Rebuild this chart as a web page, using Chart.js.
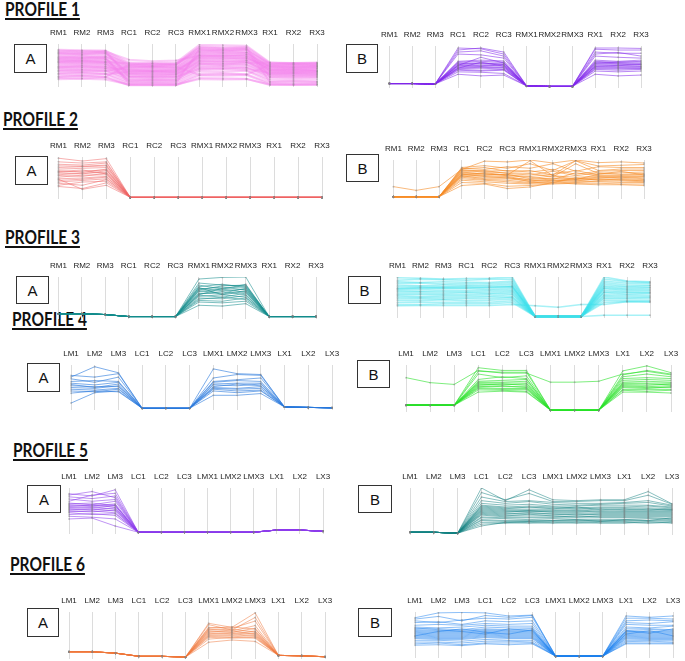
<!DOCTYPE html>
<html><head><meta charset="utf-8">
<script src="https://cdn.jsdelivr.net/npm/chart.js@4/dist/chart.umd.min.js"></script>
<style>
html,body{margin:0;padding:0;background:#fff;}
body{width:685px;height:661px;position:relative;overflow:hidden;}
.title{position:absolute;font-family:Lato,"Open Sans",sans-serif;font-weight:bold;font-size:18px;line-height:18px;color:#111;text-decoration:underline;text-decoration-thickness:2px;text-underline-offset:2px;white-space:nowrap;transform:scaleX(0.86);transform-origin:0 0;}
.box{position:absolute;box-sizing:border-box;border:1.5px solid #333;font-family:"Liberation Sans",Arial,sans-serif;font-size:15px;color:#111;display:flex;align-items:center;justify-content:center;}
canvas{position:absolute;}
</style></head>
<body>
<script>
// ---- categories ----
const rAxes = ['RM1','RM2','RM3','RC1','RC2','RC3','RMX1','RMX2','RMX3','RX1','RX2','RX3'];
const lAxes = ['LM1','LM2','LM3','LC1','LC2','LC3','LMX1','LMX2','LMX3','LX1','LX2','LX3'];
const titles = ['PROFILE 1','PROFILE 2','PROFILE 3','PROFILE 4','PROFILE 5','PROFILE 6'];

// ---- series (0 = panel floor, 100 = panel top) ----
const p1A = [
 [86,85,84,55,54,55,98,97,96,55,54,55],[82,83,80,52,53,52,94,92,93,53,52,53],
 [78,79,77,50,52,50,90,88,89,50,51,50],[75,74,76,48,47,49,86,85,86,48,49,48],
 [72,73,71,46,45,46,82,84,80,46,47,46],[70,68,70,44,45,43,80,78,79,45,44,45],
 [67,66,68,42,43,42,76,77,75,43,43,42],[64,65,63,40,41,40,73,72,74,41,40,41],
 [62,61,62,38,39,38,70,71,69,40,39,40],[60,59,58,36,35,36,68,67,66,38,37,38],
 [57,58,56,34,35,34,65,64,66,36,36,35],[55,54,55,32,33,32,62,63,61,34,35,34],
 [52,53,51,30,31,30,60,59,60,33,32,33],[50,49,50,28,29,28,57,58,56,31,30,31],
 [47,48,46,26,27,26,54,53,55,29,30,29],[45,44,45,24,23,25,51,52,50,27,28,27],
 [42,43,41,22,21,22,48,47,49,25,24,25],[40,39,40,20,19,20,45,46,44,22,23,22],
 [37,38,36,16,17,16,42,41,43,19,18,19],[34,33,35,12,13,12,38,39,37,15,14,15],
 [30,31,29,8,9,8,34,33,35,10,11,10],[26,25,27,4,5,4,28,29,27,6,5,6],
 [22,23,21,1,1,1,24,23,25,3,2,3],[18,17,19,0,0,0,18,17,16,1,1,1],
 [15,16,14,2,2,2,15,14,15,2,2,2],[84,82,83,20,22,20,40,42,40,30,31,30],
 [20,22,20,50,48,50,92,90,91,20,21,20],[65,64,66,5,6,5,88,86,87,8,9,8],
 [35,36,34,45,46,45,25,27,26,50,50,49],[55,56,54,14,15,14,78,80,79,44,43,44],
 [80,78,82,62,58,60,72,74,70,38,40,36],[68,70,66,10,12,11,52,50,54,55,52,54],
 [58,60,57,53,50,52,84,82,85,52,54,52],[44,46,43,38,36,37,66,68,64,47,45,46],
 [77,75,78,28,26,27,58,56,59,26,26,25],[28,30,27,33,34,32,72,70,73,36,34,35]
];
const p1B = [
 [7,7,6,95,93,80,1,0,0,95,95,94],[7,7,6,90,95,85,1,0,0,92,90,90],
 [7,7,6,85,88,75,1,0,0,85,82,82],[7,7,6,80,78,70,1,0,0,80,84,75],
 [7,7,6,62,65,63,1,0,0,75,72,70],[7,7,6,60,62,60,1,0,0,65,62,65],
 [7,7,6,58,57,58,1,0,0,62,60,60],[7,7,6,56,58,55,1,0,0,60,58,57],
 [7,7,6,54,55,54,1,0,0,58,56,55],[7,7,6,52,50,53,1,0,0,55,55,53],
 [7,7,6,50,52,50,1,0,0,53,52,54],[7,7,6,48,49,47,1,0,0,50,52,50],
 [7,7,6,46,47,46,1,0,0,48,47,48],[7,7,6,44,45,43,1,0,0,46,45,45],
 [7,7,6,42,40,42,1,0,0,44,43,44],[7,7,6,40,38,40,1,0,0,42,40,42],
 [7,7,6,36,35,32,1,0,0,38,36,38],[7,7,6,30,26,28,1,0,0,30,26,28],
 [7,7,6,52,72,58,1,0,0,57,60,62],[7,7,6,45,60,50,1,0,0,50,49,48]
];
const p2A = [
 [97,90,96,0,0,0,0,0,0,0,0,0],[88,85,88,0,0,0,0,0,0,0,0,0],[82,80,85,0,0,0,0,0,0,0,0,0],
 [78,77,80,0,0,0,0,0,0,0,0,0],[74,76,78,0,0,0,0,0,0,0,0,0],[70,72,74,0,0,0,0,0,0,0,0,0],
 [66,62,70,0,0,0,0,0,0,0,0,0],[62,65,68,0,0,0,0,0,0,0,0,0],[60,58,66,0,0,0,0,0,0,0,0,0],
 [56,60,62,0,0,0,0,0,0,0,0,0],[54,52,60,0,0,0,0,0,0,0,0,0],[50,55,56,0,0,0,0,0,0,0,0,0],
 [46,48,52,0,0,0,0,0,0,0,0,0],[42,45,50,0,0,0,0,0,0,0,0,0],[38,42,46,0,0,0,0,0,0,0,0,0],
 [35,30,44,0,0,0,0,0,0,0,0,0],[30,38,40,0,0,0,0,0,0,0,0,0],[27,22,36,0,0,0,0,0,0,0,0,0],
 [45,20,30,0,0,0,0,0,0,0,0,0],[64,68,58,0,0,0,0,0,0,0,0,0]
];
const p2B = [
 [29,19,29,75,97,95,100,92,100,93,95,92],[2,2,2,80,85,78,90,72,98,84,86,88],
 [2,2,2,78,75,82,78,90,70,82,80,80],[2,2,2,76,80,70,72,60,98,72,76,76],
 [2,2,2,74,70,72,68,75,62,70,72,72],[2,2,2,72,68,66,64,55,90,64,66,68],
 [2,2,2,70,72,64,60,70,58,66,62,64],[2,2,2,68,62,60,56,62,72,60,60,62],
 [2,2,2,66,64,58,54,48,66,58,58,58],[2,2,2,64,60,62,50,58,54,56,56,56],
 [2,2,2,62,56,52,48,52,50,54,52,54],[2,2,2,60,58,56,46,44,48,52,54,50],
 [2,2,2,58,50,50,44,50,46,48,50,48],[2,2,2,56,54,54,42,46,44,50,46,46],
 [2,2,2,54,48,46,40,40,52,46,48,44],[2,2,2,50,46,42,38,44,40,44,44,42],
 [2,2,2,46,42,38,36,38,42,42,40,40],[2,2,2,40,38,30,32,36,38,38,36,36],
 [2,2,2,32,36,24,28,40,36,34,34,32],[2,2,2,60,66,60,98,58,48,62,70,60]
];
const p3A = [
 [9,9,7,2,2,2,95,99,100,2,2,2],[9,9,7,2,2,2,85,80,78,2,2,2],[9,9,7,2,2,2,80,70,82,2,2,2],
 [9,9,7,2,2,2,76,82,74,2,2,2],[9,9,7,2,2,2,72,66,70,2,2,2],[9,9,7,2,2,2,70,75,68,2,2,2],
 [9,9,7,2,2,2,66,60,72,2,2,2],[9,9,7,2,2,2,64,70,62,2,2,2],[9,9,7,2,2,2,60,58,66,2,2,2],
 [9,9,7,2,2,2,58,64,56,2,2,2],[9,9,7,2,2,2,55,50,60,2,2,2],[9,9,7,2,2,2,52,56,50,2,2,2],
 [9,9,7,2,2,2,48,46,54,2,2,2],[9,9,7,2,2,2,45,50,44,2,2,2],[9,9,7,2,2,2,42,40,48,2,2,2],
 [9,9,7,2,2,2,38,36,40,2,2,2],[9,9,7,2,2,2,30,28,34,2,2,2],[9,9,7,2,2,2,68,78,80,2,2,2],
 [9,9,7,2,2,2,74,56,64,2,2,2],[9,9,7,2,2,2,56,72,76,2,2,2]
];
const p3B = [
 [98,97,95,96,97,100,0,0,0,100,90,88],[92,94,93,92,94,95,0,0,0,95,88,86],
 [88,86,88,87,86,90,0,0,0,90,84,84],[84,85,82,84,83,86,0,0,0,86,80,80],
 [80,78,80,80,79,82,0,0,0,82,76,78],[76,76,75,77,76,78,0,0,0,78,74,74],
 [72,73,72,72,74,75,0,0,0,75,70,72],[68,68,70,70,68,72,0,0,0,72,68,68],
 [65,64,66,65,66,68,0,0,0,70,65,66],[62,62,62,62,62,65,0,0,0,66,62,62],
 [58,58,58,60,58,62,0,0,0,62,60,60],[55,55,55,55,56,58,0,0,0,60,56,58],
 [52,50,52,52,52,55,0,0,0,55,54,54],[48,48,48,48,49,50,0,0,0,52,50,50],
 [44,45,44,45,45,48,0,0,0,48,47,48],[40,40,42,40,41,44,0,0,0,45,44,44],
 [35,36,36,36,36,40,0,0,0,40,40,40],[30,30,32,32,32,35,0,0,0,35,38,38],
 [27,28,28,28,28,30,27,23,30,30,37,36],[70,72,74,74,72,76,0,0,0,3,3,3]
];
const p4A = [
 [72,96,82,0,0,0,91,80,78,3,2,1],[76,72,80,0,0,0,70,78,76,3,2,1],
 [68,60,72,0,0,0,62,66,70,3,2,1],[62,64,62,0,0,0,60,64,62,3,2,1],
 [58,54,60,0,0,0,56,58,58,3,2,1],[55,48,56,0,0,0,54,52,56,3,2,1],
 [52,50,50,0,0,0,50,56,52,3,2,1],[48,46,52,0,0,0,48,46,50,3,2,1],
 [44,42,46,0,0,0,46,44,46,3,2,1],[40,38,44,0,0,0,44,40,42,3,2,1],
 [35,40,38,0,0,0,40,36,40,3,2,1],[12,36,40,0,0,0,30,30,34,3,2,1]
];
const p4B = [
 [72,61,57,88,82,82,62,62,64,80,86,78],[11,11,11,94,88,88,0,0,0,87,98,83],
 [11,11,11,86,84,84,0,0,0,78,88,80],[11,11,11,80,72,76,0,0,0,74,80,74],
 [11,11,11,68,74,70,0,0,0,70,72,70],[11,11,11,64,66,68,0,0,0,66,68,66],
 [11,11,11,62,62,64,0,0,0,62,64,62],[11,11,11,60,60,60,0,0,0,60,60,60],
 [11,11,11,58,56,58,0,0,0,58,58,56],[11,11,11,56,58,55,0,0,0,56,55,58],
 [11,11,11,54,52,52,0,0,0,54,52,54],[11,11,11,52,54,50,0,0,0,52,50,50],
 [11,11,11,50,48,48,0,0,0,50,48,52],[11,11,11,48,46,46,0,0,0,46,46,46],
 [11,11,11,45,44,42,0,0,0,44,42,44],[11,11,11,40,42,40,0,0,0,40,40,38]
];
const p5A = [
 [87,82,96,0,0,0,0,0,0,5,5,2],[84,92,78,0,0,0,0,0,0,5,5,2],[80,76,82,0,0,0,0,0,0,5,5,2],
 [75,70,74,0,0,0,0,0,0,5,5,2],[66,62,70,0,0,0,0,0,0,5,5,2],[64,66,60,0,0,0,0,0,0,5,5,2],
 [62,60,64,0,0,0,0,0,0,5,5,2],[60,58,62,0,0,0,0,0,0,5,5,2],[58,62,56,0,0,0,0,0,0,5,5,2],
 [56,54,60,0,0,0,0,0,0,5,5,2],[54,56,52,0,0,0,0,0,0,5,5,2],[52,50,55,0,0,0,0,0,0,5,5,2],
 [50,52,48,0,0,0,0,0,0,5,5,2],[48,46,50,0,0,0,0,0,0,5,5,2],[46,48,44,0,0,0,0,0,0,5,5,2],
 [44,40,42,0,0,0,0,0,0,5,5,2],[40,42,38,0,0,0,0,0,0,5,5,2],[36,34,30,0,0,0,0,0,0,5,5,2],
 [30,32,14,0,0,0,0,0,0,5,5,2],[70,84,88,0,0,0,0,0,0,5,5,2]
];
const p5B = [
 [2,2,0,100,72,96,74,72,74,74,92,65],[2,2,0,90,74,88,70,70,72,72,84,64],
 [2,2,0,80,70,72,68,66,66,68,72,62],[2,2,0,72,66,70,64,62,64,66,68,60],
 [2,2,0,66,62,64,60,60,62,62,62,58],[2,2,0,62,58,60,58,56,58,58,60,56],
 [2,2,0,60,56,56,56,54,56,56,56,54],[2,2,0,58,54,58,54,58,52,54,52,52],
 [2,2,0,56,52,52,52,50,54,52,54,50],[2,2,0,54,50,50,50,52,48,50,50,52],
 [2,2,0,52,48,48,48,46,50,48,48,48],[2,2,0,50,46,50,46,48,46,46,46,46],
 [2,2,0,48,44,44,44,44,44,44,44,44],[2,2,0,46,42,46,42,40,42,42,42,42],
 [2,2,0,44,40,40,40,42,40,40,40,40],[2,2,0,42,38,42,38,36,38,38,38,38],
 [2,2,0,40,36,36,36,38,36,36,36,36],[2,2,0,36,34,34,34,34,34,34,34,32],
 [2,2,0,34,32,30,32,30,30,30,32,30],[2,2,0,30,28,28,28,28,28,28,28,28],
 [2,2,0,28,26,26,26,26,26,26,24,26],[2,2,0,24,24,22,24,22,24,24,22,24],
 [2,2,0,20,22,24,22,24,22,22,26,22],[2,2,0,16,24,26,28,30,26,30,28,34]
];
const p6A = [
 [12,12,9,2,2,0,75,66,98,4,3,1],[12,12,9,2,2,0,72,60,88,4,3,1],[12,12,9,2,2,0,66,64,80,4,3,1],
 [12,12,9,2,2,0,64,67,62,4,3,1],[12,12,9,2,2,0,62,58,70,4,3,1],[12,12,9,2,2,0,60,62,56,4,3,1],
 [12,12,9,2,2,0,58,55,64,4,3,1],[12,12,9,2,2,0,56,58,52,4,3,1],[12,12,9,2,2,0,54,52,58,4,3,1],
 [12,12,9,2,2,0,52,54,50,4,3,1],[12,12,9,2,2,0,50,48,54,4,3,1],[12,12,9,2,2,0,48,50,46,4,3,1],
 [12,12,9,2,2,0,46,45,48,4,3,1],[12,12,9,2,2,0,44,42,44,4,3,1],[12,12,9,2,2,0,40,44,42,4,3,1],
 [12,12,9,2,2,0,33,38,35,4,3,1]
];
const p6B = [
 [87,98,99,98,91,93,0,0,0,91,88,91],[84,90,80,92,88,92,0,0,0,86,86,84],
 [80,76,82,86,84,88,0,0,0,80,82,80],[76,78,72,80,78,80,0,0,0,76,74,78],
 [70,72,70,74,72,74,0,0,0,72,70,70],[66,64,66,70,68,68,0,0,0,66,64,68],
 [62,62,60,66,64,64,0,0,0,62,62,60],[60,58,58,62,60,62,0,0,0,58,60,58],
 [58,56,56,60,58,58,0,0,0,56,56,56],[56,54,54,58,56,56,0,0,0,55,54,54],
 [54,52,52,56,54,54,0,0,0,53,52,52],[52,50,50,54,52,52,0,0,0,51,50,50],
 [50,48,48,52,50,50,0,0,0,49,48,48],[48,46,46,50,48,48,0,0,0,47,46,46],
 [46,44,44,48,46,46,0,0,0,45,44,44],[44,42,42,46,44,44,0,0,0,43,42,42],
 [42,40,40,44,42,42,0,0,0,41,40,40],[40,38,38,42,40,40,0,0,0,39,38,38],
 [36,36,34,38,36,36,0,0,0,36,36,36],[32,32,30,34,34,32,0,0,0,33,34,32],
 [28,30,26,30,30,30,0,0,0,30,30,30],[25,26,24,28,26,28,0,0,0,28,28,28],
 [64,60,56,50,62,58,0,0,0,58,52,62],[46,56,62,54,50,60,0,0,0,50,58,46]
];

// ---- layout (page geometry & styling only) ----
const titlePos = [[5,0],[3,110],[5,228],[12,310],[13,441],[10,555]];
const panels = [
 {lab:'A',labels:rAxes,lines:p1A,x0:58,x1:317,top:44,bot:86,col:'rgba(242,130,236,0.42)',w:2,box:[14,44,33,29]},
 {lab:'B',labels:rAxes,lines:p1B,x0:389,x1:641,top:46,bot:87,col:'rgba(130,40,235,0.55)',w:1,box:[346,44,32,29]},
 {lab:'A',labels:rAxes,lines:p2A,x0:58,x1:322,top:157,bot:198,col:'rgba(240,100,100,0.5)',w:1,box:[15,156,33,29]},
 {lab:'B',labels:rAxes,lines:p2B,x0:393,x1:644,top:160,bot:198,col:'rgba(245,140,40,0.6)',w:1,box:[346,154,33,28]},
 {lab:'A',labels:rAxes,lines:p3A,x0:58,x1:316,top:277,bot:318,col:'rgba(20,140,140,0.55)',w:1,box:[16,276,33,28]},
 {lab:'B',labels:rAxes,lines:p3B,x0:397,x1:650,top:277,bot:317,col:'rgba(60,225,235,0.45)',w:1.5,box:[348,276,33,28]},
 {lab:'A',labels:lAxes,lines:p4A,x0:71,x1:332,top:365,bot:409,col:'rgba(40,120,220,0.6)',w:1,box:[27,363,33,29]},
 {lab:'B',labels:lAxes,lines:p4B,x0:406,x1:671,top:365,bot:411,col:'rgba(40,225,40,0.6)',w:1,box:[357,360,33,28]},
 {lab:'A',labels:lAxes,lines:p5A,x0:69,x1:323,top:488,bot:533,col:'rgba(140,60,235,0.55)',w:1,box:[27,485,34,28]},
 {lab:'B',labels:lAxes,lines:p5B,x0:410,x1:672,top:488,bot:534,col:'rgba(20,130,130,0.5)',w:1,box:[358,485,34,28]},
 {lab:'A',labels:lAxes,lines:p6A,x0:69,x1:325,top:612,bot:658,col:'rgba(240,120,60,0.5)',w:1,box:[27,608,32,29]},
 {lab:'B',labels:lAxes,lines:p6B,x0:415,x1:673,top:612,bot:657,col:'rgba(30,130,240,0.5)',w:1,box:[358,608,34,29]}
];

titles.forEach((t,i)=>{
  const d=document.createElement('div');d.className='title';d.textContent=t;
  d.style.left=titlePos[i][0]+'px';d.style.top=titlePos[i][1]+'px';document.body.appendChild(d);
});

const PAD=14, AX=16, BOT=3;
panels.forEach(p=>{
  const b=document.createElement('div');b.className='box';b.textContent=p.lab;
  b.style.left=p.box[0]+'px';b.style.top=p.box[1]+'px';b.style.width=p.box[2]+'px';b.style.height=p.box[3]+'px';
  document.body.appendChild(b);
  const c=document.createElement('canvas');
  const W=p.x1-p.x0+2*PAD, H=AX+(p.bot-p.top)+2+BOT;
  c.width=W;c.height=H;c.style.width=W+'px';c.style.height=H+'px';
  c.style.left=(p.x0-PAD)+'px';c.style.top=(p.top-AX)+'px';
  document.body.appendChild(c);
  new Chart(c,{
    type:'line',
    data:{labels:p.labels,datasets:p.lines.map(v=>({data:v,borderColor:p.col,borderWidth:p.w,tension:0,
      pointRadius:1,pointBackgroundColor:'rgba(130,130,130,0.4)',pointBorderWidth:0,fill:false}))},
    options:{
      responsive:false,animation:false,devicePixelRatio:1,
      layout:{padding:{left:PAD,right:PAD,top:0,bottom:BOT}},
      plugins:{legend:{display:false},tooltip:{enabled:false}},
      scales:{
        x:{position:'top',offset:false,
           grid:{display:true,drawTicks:false,color:'#dcdcdc',lineWidth:1},
           border:{display:false},
           ticks:{padding:6,color:'#222',font:{family:'"Liberation Sans", Arial, sans-serif',size:8},maxRotation:0,autoSkip:false},
           afterFit:s=>{s.height=AX;}},
        y:{display:false,min:-4,max:100}
      }
    }
  });
});
</script>
</body></html>
